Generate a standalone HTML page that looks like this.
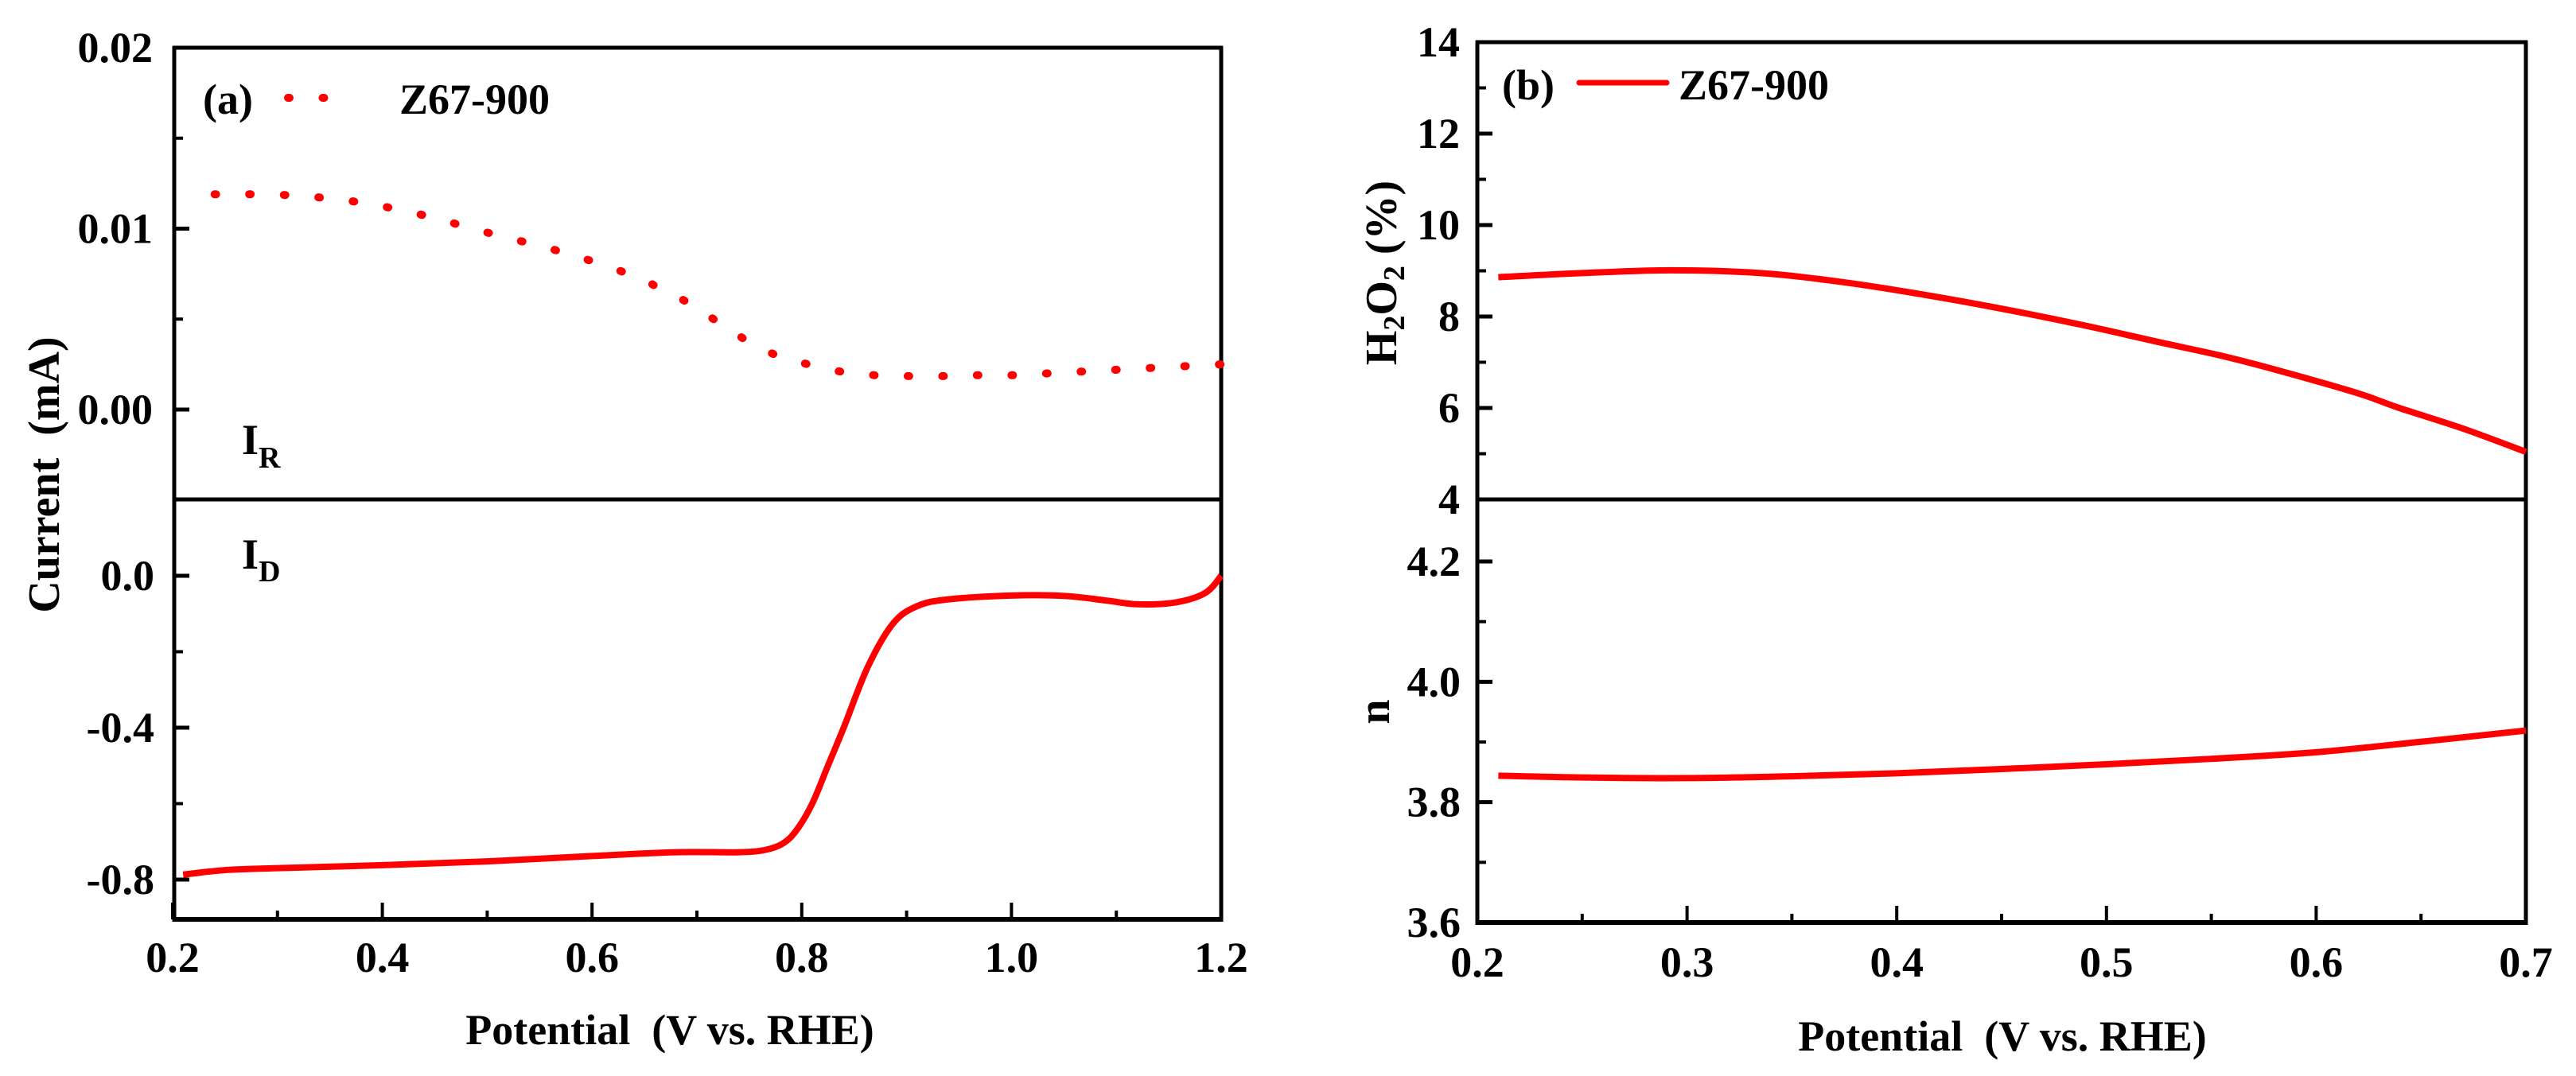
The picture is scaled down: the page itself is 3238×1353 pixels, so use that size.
<!DOCTYPE html>
<html><head><meta charset="utf-8"><style>
html,body{margin:0;padding:0;background:#fff;}
svg{display:block;}
text{font-family:"Liberation Serif",serif;font-weight:bold;fill:#000;}
</style></head><body>
<svg id="chart" width="3238" height="1353" viewBox="0 0 3238 1353" xmlns="http://www.w3.org/2000/svg">
<rect width="3238" height="1353" fill="#fff"/>
<g id="g"></g>
</svg>
<script>
// Panel (a) data
const irPotential = [0.240,0.307,0.373,0.435,0.499,0.578,0.639,0.668,0.695,0.721,0.748,0.776,0.806,0.837,0.869,0.902,0.935,0.968,1.001,1.034,1.067,1.100,1.133,1.166,1.200];
const irCurrent   = [0.0119,0.01186,0.0115,0.0108,0.0098,0.0086,0.0074,0.0066,0.0058,0.0048,0.0038,0.0030,0.0025,0.0021,0.0019,0.00185,0.00185,0.0019,0.0019,0.0020,0.0021,0.0022,0.0023,0.0024,0.0025];
const idPotential = [0.21,0.25,0.30,0.40,0.50,0.60,0.68,0.74,0.765,0.782,0.795,0.81,0.825,0.84,0.863,0.887,0.91,0.94,1.00,1.05,1.09,1.12,1.157,1.185,1.20];
const idCurrent   = [-0.787,-0.775,-0.770,-0.762,-0.752,-0.738,-0.728,-0.728,-0.722,-0.705,-0.670,-0.600,-0.500,-0.400,-0.240,-0.126,-0.080,-0.062,-0.052,-0.053,-0.065,-0.075,-0.070,-0.045,0.0];
// Panel (b) data
const h2o2Potential = [0.21,0.25,0.293,0.335,0.373,0.41,0.449,0.49,0.525,0.555,0.582,0.62,0.639,0.67,0.70];
const h2o2Percent   = [8.86,8.95,9.01,8.95,8.76,8.50,8.18,7.80,7.44,7.14,6.82,6.32,6.01,5.55,5.04];
const nPotential = [0.21,0.25,0.30,0.35,0.40,0.45,0.50,0.55,0.60,0.649,0.70];
const nValue     = [3.844,3.841,3.840,3.843,3.848,3.855,3.863,3.872,3.883,3.900,3.919];
// Tick labels
const xTicksA = ["0.2","0.4","0.6","0.8","1.0","1.2"];
const yTicksIR = ["0.00","0.01","0.02"];
const yTicksID = ["-0.8","-0.4","0.0"];
const xTicksB = ["0.2","0.3","0.4","0.5","0.6","0.7"];
const yTicksH = ["4","6","8","10","12","14"];
const yTicksN = ["3.6","3.8","4.0","4.2"];

const NS="http://www.w3.org/2000/svg";
const G=document.getElementById('g');
function mk(tag,attrs,parent){const e=document.createElementNS(NS,tag);for(const k in attrs)e.setAttribute(k,attrs[k]);(parent||G).appendChild(e);return e;}
function lin(d0,d1,r0,r1){return v=>r0+(v-d0)*(r1-r0)/(d1-d0);}
const xA=lin(0.2,1.2,217,1535);
const yIR=lin(0,0.02,515,60);
const yID=lin(0,-0.8,724,1106);
const xB=lin(0.2,0.7,1857,3175);
const yH=lin(4,14,628,53);
const yN=lin(3.6,4.2,1160,706);

function smooth(xs,ys,fx,fy){
  const p=xs.map((x,i)=>[fx(x),fy(ys[i])]);
  let d=`M${p[0][0]},${p[0][1]}`;
  for(let i=0;i<p.length-1;i++){
    const p0=p[i-1]||p[i],p1=p[i],p2=p[i+1],p3=p[i+2]||p2;
    const c1=[p1[0]+(p2[0]-p0[0])/6,p1[1]+(p2[1]-p0[1])/6];
    const c2=[p2[0]-(p3[0]-p1[0])/6,p2[1]-(p3[1]-p1[1])/6];
    d+=` C${c1[0]},${c1[1]} ${c2[0]},${c2[1]} ${p2[0]},${p2[1]}`;
  }
  return d;
}
function txt(s,x,y,size,anchor,name){const t=mk('text',{x:x,y:y,'font-size':size,'text-anchor':anchor||'middle'});t.textContent=s;


return t;}
function line(x1,y1,x2,y2,w,name){const l=mk('line',{x1,y1,x2,y2,stroke:'#000','stroke-width':w});


return l;}

// ---------- Panel (a) ----------
line(217,60,1537,60,5,'top-axis-a');
line(217,628,1537,628,5,'divider-a');
line(217,1156,1537,1156,6,'x-axis-a');
line(219,58,219,1159,5,'y-axis-a');
line(1535,58,1535,1159,5,'right-axis-a');
xTicksA.forEach(s=>{const v=parseFloat(s);const x=xA(v);
 line(x,1156,x,1135,4,'x-tick-a');
 txt(s,x,1222,54,'middle','x-tick-label-a');});
for(let v=0.3;v<1.2;v+=0.2){const x=xA(v);line(x,1156,x,1145,4,'x-minor-tick-a');}
yTicksIR.forEach(s=>{const y=yIR(parseFloat(s));line(219,y,238,y,5,'y-tick-ir');txt(s,192,y+18,54,'end','y-tick-label-ir');});
[0.005,0.015].forEach(v=>{const y=yIR(v);line(219,y,230,y,4,'y-minor-tick-ir');});
yTicksID.forEach(s=>{const y=yID(parseFloat(s));line(219,y,238,y,5,'y-tick-id');txt(s,194,y+18,54,'end','y-tick-label-id');});
[-0.2,-0.6].forEach(v=>{const y=yID(v);line(219,y,230,y,4,'y-minor-tick-id');});
const ir=mk('path',{d:smooth(irPotential,irCurrent,xA,yIR),fill:'none',stroke:'#ff0000','stroke-width':10,'stroke-linecap':'round','stroke-dasharray':'2 41.5'});


const idc=mk('path',{d:smooth(idPotential,idCurrent,xA,yID),fill:'none',stroke:'#ff0000','stroke-width':8,'stroke-linejoin':'round'});


txt('(a)',255,143,54,'start','panel-label-a');
const legDots=mk('path',{d:'M362,123 L449,123',stroke:'#ff0000','stroke-width':10,'stroke-linecap':'round','stroke-dasharray':'2 41.5',fill:'none'});


txt('Z67-900',502,143,54,'start','legend-label-a');
const ir_t=mk('text',{x:304,y:571,'font-size':54,'text-anchor':'start'});
ir_t.innerHTML='I<tspan font-size="38" dy="17">R</tspan>';


const id_t=mk('text',{x:304,y:715,'font-size':54,'text-anchor':'start'});
id_t.innerHTML='I<tspan font-size="38" dy="16">D</tspan>';


const yta=mk('text',{x:0,y:0,'font-size':56,'text-anchor':'middle',transform:'translate(74,597) rotate(-90)'});
yta.textContent='Current\u00a0\u00a0(mA)';


txt('Potential\u00a0\u00a0(V vs. RHE)',842,1313,54,'middle','x-axis-title-a');

// ---------- Panel (b) ----------
line(1855,53,3177,53,5,'top-axis-b');
line(1855,628,3177,628,5,'divider-b');
line(1855,1160,3177,1160,6,'x-axis-b');
line(1857,51,1857,1163,5,'y-axis-b');
line(3175,51,3175,1163,5,'right-axis-b');
xTicksB.forEach(s=>{const x=xB(parseFloat(s));line(x,1160,x,1139,4,'x-tick-b');txt(s,x,1228,54,'middle','x-tick-label-b');});
[0.25,0.35,0.45,0.55,0.65].forEach(v=>{const x=xB(v);line(x,1160,x,1149,4,'x-minor-tick-b');});
yTicksH.forEach(s=>{const y=yH(parseFloat(s));line(1857,y,1876,y,5,'y-tick-h2o2');txt(s,1835,y+18,54,'end','y-tick-label-h2o2');});
[5,7,9,11,13].forEach(v=>{const y=yH(v);line(1857,y,1868,y,4,'y-minor-tick-h2o2');});
yTicksN.forEach(s=>{const y=yN(parseFloat(s));line(1857,y,1876,y,5,'y-tick-n');txt(s,1836,y+18,54,'end','y-tick-label-n');});
[3.7,3.9,4.1].forEach(v=>{const y=yN(v);line(1857,y,1868,y,4,'y-minor-tick-n');});
const hc=mk('path',{d:smooth(h2o2Potential,h2o2Percent,xB,yH),fill:'none',stroke:'#ff0000','stroke-width':8});


const nc=mk('path',{d:smooth(nPotential,nValue,xB,yN),fill:'none',stroke:'#ff0000','stroke-width':8});


txt('(b)',1888,125,54,'start','panel-label-b');
const legLine=mk('line',{x1:1985,y1:104,x2:2095,y2:104,stroke:'#ff0000','stroke-width':7,'stroke-linecap':'round'});


txt('Z67-900',2110,125,54,'start','legend-label-b');
const ytb=mk('text',{x:0,y:0,'font-size':56,'text-anchor':'middle',transform:'translate(1755,343) rotate(-90)'});
ytb.innerHTML='H<tspan font-size="38" dy="10">2</tspan><tspan dy="-10">O</tspan><tspan font-size="38" dy="10">2</tspan><tspan dy="-10">\u00a0(%)</tspan>';


const ytn=mk('text',{x:0,y:0,'font-size':56,'text-anchor':'middle',transform:'translate(1746,895) rotate(-90)'});
ytn.textContent='n';


txt('Potential\u00a0\u00a0(V vs. RHE)',2517,1321,54,'middle','x-axis-title-b');
</script>
</body></html>
